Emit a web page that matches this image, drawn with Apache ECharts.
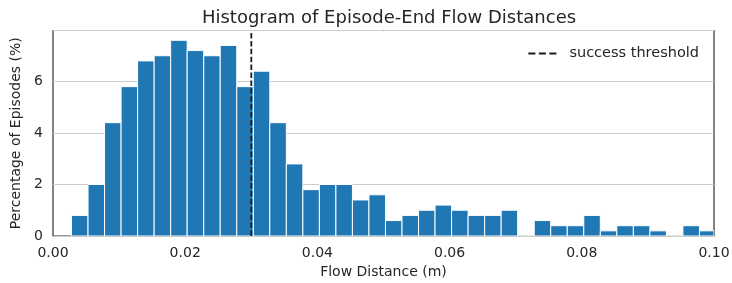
<!DOCTYPE html>
<html>
<head>
<meta charset="utf-8">
<script src="https://cdn.jsdelivr.net/npm/echarts@6/dist/echarts.min.js"></script>
<style>
  html, body { margin: 0; padding: 0; background: #fff; }
  #chart { width: 732px; height: 283px; }
</style>
</head>
<body>
<div id="chart"></div>
<script>
// histogram bins (percentage of episodes per bin)
var binStart = 0.0028;
var binWidth = 0.0025;
var percents = [0.8, 2.0, 4.4, 5.8, 6.8, 7.0, 7.6, 7.2, 7.0, 7.4, 5.8, 6.4,
  4.4, 2.8, 1.8, 2.0, 2.0, 1.4, 1.6, 0.6, 0.8, 1.0, 1.2, 1.0, 0.8,
  0.8, 1.0, 0, 0.6, 0.4, 0.4, 0.8, 0.2, 0.4, 0.4, 0.2, 0, 0.4, 0.2];
var threshold = 0.03;
var xTicks = [0, 0.02, 0.04, 0.06, 0.08, 0.10];

var bins = percents.map(function (v, i) {
  var lo = binStart + i * binWidth;
  return [lo, lo + binWidth, v];
});

var font = 'DejaVu Sans';
var chart = echarts.init(document.getElementById('chart'));

var option = {
  animation: false,
  textStyle: { fontFamily: font },
  title: {
    text: 'Histogram of Episode-End Flow Distances',
    left: 384, top: 4, textAlign: 'center',
    textStyle: { fontFamily: font, fontSize: 18, fontWeight: 'normal', color: '#262626' }
  },
  legend: {
    right: 28, top: 41,
    itemWidth: 28, itemHeight: 3, itemGap: 10,
    data: [{
      name: 'success threshold',
      icon: 'path://M0,0h7v2h-7z M10.5,0h7v2h-7z M21,0h7v2h-7z'
    }],
    textStyle: { fontFamily: font, fontSize: 14.5, color: '#262626', padding: [0, 0, 0, 8] }
  },
  grid: {
    left: 53, right: 18, top: 30.5, bottom: 47,
    show: true, borderColor: '#333', borderWidth: 1.2,
    containLabel: false, outerBoundsMode: 'none'
  },
  xAxis: {
    type: 'value', min: 0, max: 0.1, interval: 0.02,
    name: 'Flow Distance (m)', nameLocation: 'middle', nameGap: 28,
    nameTextStyle: { fontFamily: font, fontSize: 14, color: '#262626' },
    axisLine: { show: false }, axisTick: { show: false }, splitLine: { show: false },
    axisLabel: {
      fontFamily: font, fontSize: 14, color: '#262626', margin: 10,
      formatter: function (v) {
        for (var i = 0; i < xTicks.length; i++) {
          if (Math.abs(v - xTicks[i]) < 1e-9) return xTicks[i].toFixed(2);
        }
        return '';
      }
    }
  },
  yAxis: {
    type: 'value', min: 0, max: 7.98, interval: 2,
    name: 'Percentage of Episodes (%)', nameLocation: 'middle', nameGap: 28,
    nameTextStyle: { fontFamily: font, fontSize: 14, color: '#262626' },
    axisLine: { show: false }, axisTick: { show: false },
    splitLine: { show: true, lineStyle: { color: '#cccccc', width: 1 } },
    axisLabel: { fontFamily: font, fontSize: 14, color: '#262626', margin: 10, showMaxLabel: false }
  },
  series: [{
    type: 'custom',
    name: 'hist',
    clip: true,
    data: bins,
    encode: { x: [0, 1], y: 2 },
    renderItem: function (params, api) {
      var p0 = api.coord([api.value(0), 0]);
      var p1 = api.coord([api.value(1), api.value(2)]);
      var shape = echarts.graphic.clipRectByRect({
        x: p0[0], y: p1[1], width: p1[0] - p0[0], height: p0[1] - p1[1]
      }, {
        x: params.coordSys.x, y: params.coordSys.y,
        width: params.coordSys.width, height: params.coordSys.height
      });
      return shape && {
        type: 'rect', shape: shape,
        style: { fill: '#1f77b4', stroke: '#ffffff', lineWidth: 1 }
      };
    }
  }, {
    type: 'line',
    name: 'success threshold',
    data: [[threshold, 0], [threshold, 7.98]],
    symbol: 'none',
    itemStyle: { color: '#1a1a1a' },
    lineStyle: { color: '#1a1a1a', width: 1.8, type: [5.5, 2.4] },
    z: 5
  }]
};

chart.setOption(option);
</script>
</body>
</html>
